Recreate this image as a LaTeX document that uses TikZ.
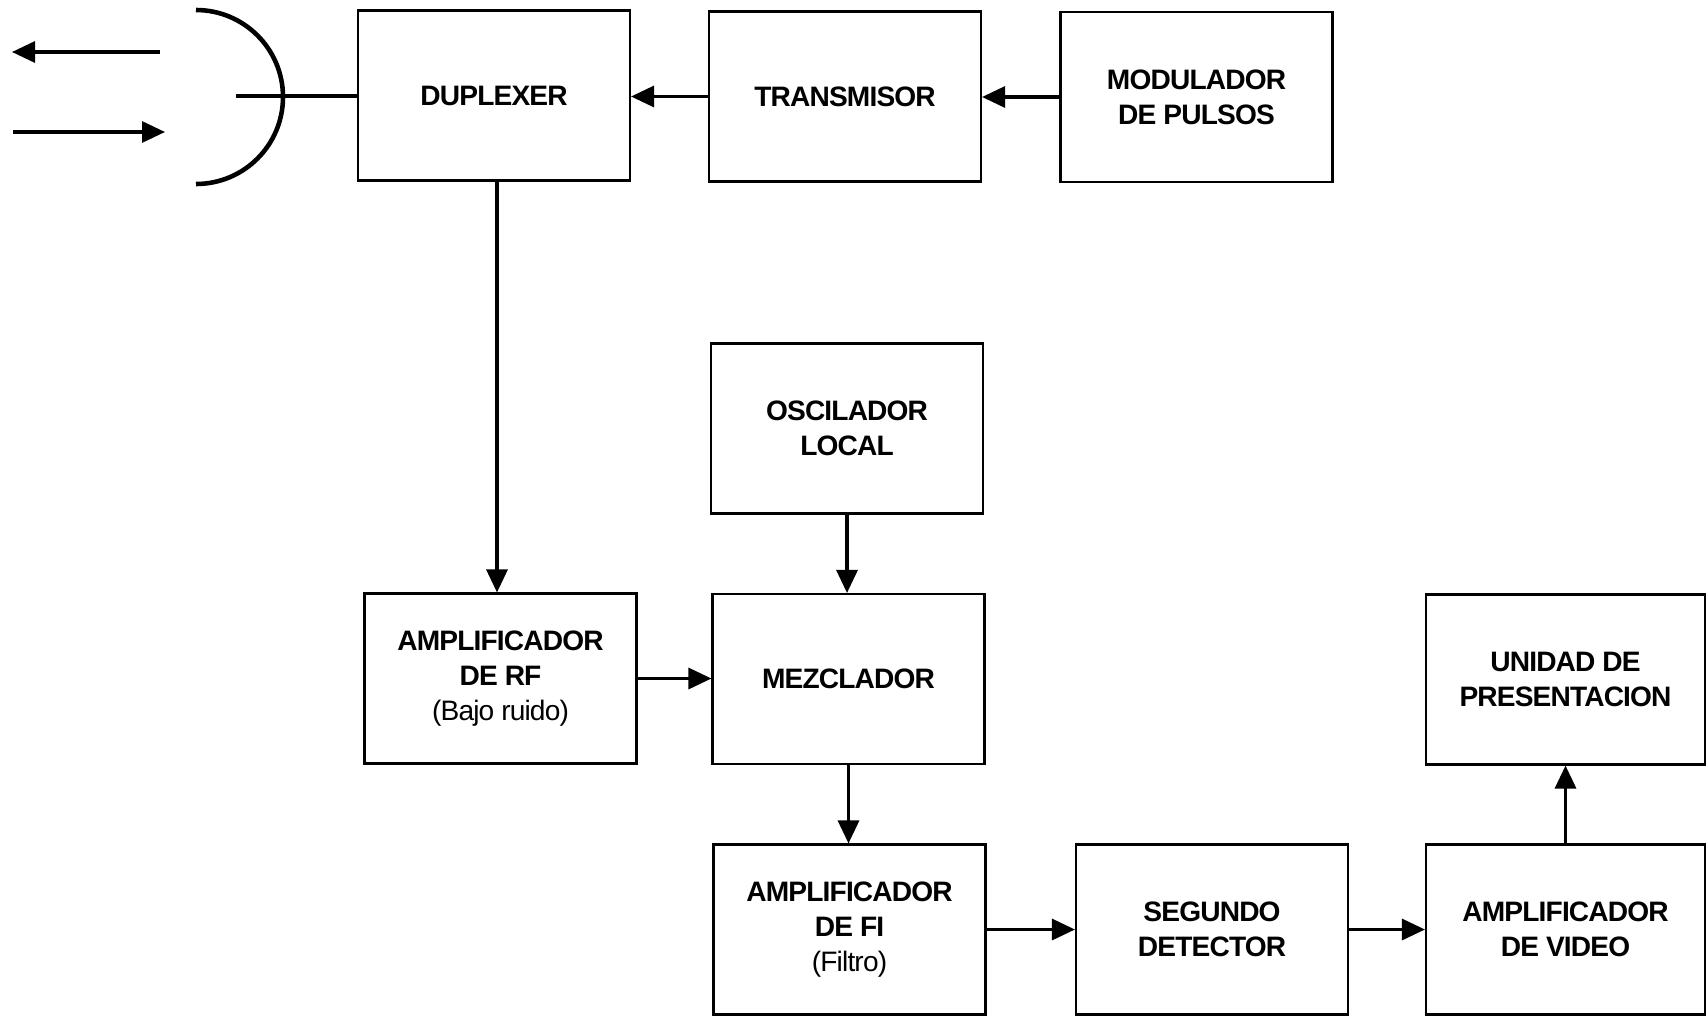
\documentclass[tikz,border=0pt]{standalone}
\usepackage{fontspec}
\setmainfont{Liberation Sans}[LetterSpace=-3]
\usepackage{tikz}
\usetikzlibrary{arrows.meta,positioning,calc}

\begin{document}
\begin{tikzpicture}[
  font=\fontsize{8}{10}\selectfont\bfseries,
  blk/.style={draw, line width=0.6pt, minimum width=2.72cm, minimum height=1.70cm, inner sep=0pt, align=center},
  wide/.style={minimum width=2.79cm},
  sig/.style={line width=0.9pt, -{Triangle[length=2.3mm,width=2.1mm]}},
  dish/.style={line width=1.3pt},
]
\useasboundingbox (0,0) rectangle (17.07,-10.16);
\def\rD{0.87} % dish radius
% transmitter chain
\node[blk] (dup) at (4.94,-0.955) {DUPLEXER};
\node[blk] (tx) at (8.45,-0.965) {TRANSMISOR};
\node[blk] (mod) at (11.965,-0.97) {MODULADOR\\DE PULSOS};
% receiver
\node[blk] (osc) at (8.47,-4.285) {OSCILADOR\\LOCAL};
\node[blk] (rfamp) at (5.005,-6.785) {AMPLIFICADOR\\DE RF\\{\mdseries(Bajo ruido)}};
\node[blk] (mix) at (8.485,-6.79) {MEZCLADOR};
\node[blk] (fiamp) at (8.495,-9.295) {AMPLIFICADOR\\DE FI\\{\mdseries(Filtro)}};
\node[blk] (det) at (12.12,-9.295) {SEGUNDO\\DETECTOR};
\node[blk, wide] (vidamp) at (15.655,-9.295) {AMPLIFICADOR\\DE VIDEO};
\node[blk, wide] (disp) at (15.655,-6.795) {UNIDAD DE\\PRESENTACION};
% antenna and waves
\draw[dish] (1.96,-0.10) arc[start angle=90, end angle=-90, radius=\rD];
\coordinate (feed) at (2.36,-0.96);
\draw[dish] (feed) -- (feed -| dup.west);
\coordinate (outA) at (1.60,-0.52);
\coordinate (outB) at (0.12,-0.52);
\coordinate (inA) at (0.13,-1.32);
\coordinate (inB) at (1.65,-1.32);
\draw[sig] (outA) -- (outB);
\draw[sig] (inA) -- (inB);
% connections
\draw[sig] (mod.west) -- (mod.west -| tx.east);
\draw[sig] (tx.west) -- (tx.west -| dup.east);
\draw[sig] ($(dup.south)+(0.03,0)$) -- ($(dup.south |- rfamp.north)+(0.03,0)$);
\draw[sig] (osc.south) -- (osc.south |- mix.north);
\draw[sig] (rfamp.east) -- (rfamp.east -| mix.west);
\draw[sig] (mix.south) -- (mix.south |- fiamp.north);
\draw[sig] (fiamp.east) -- (fiamp.east -| det.west);
\draw[sig] (det.east) -- (det.east -| vidamp.west);
\draw[sig] (vidamp.north) -- (vidamp.north |- disp.south);
\end{tikzpicture}
\end{document}
